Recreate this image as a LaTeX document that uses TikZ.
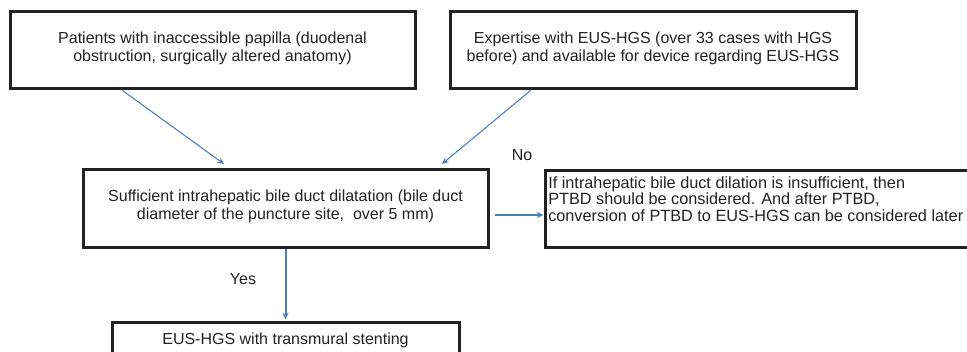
\documentclass[tikz,border=0pt]{standalone}
\usepackage{fontspec}
\setmainfont{Liberation Sans}
\usetikzlibrary{arrows.meta,calc}
\definecolor{arrowblue}{RGB}{74,126,187}
\definecolor{boxline}{RGB}{34,34,34}
\begin{document}
\begin{tikzpicture}[x=0.75pt,y=-0.75pt,
  box/.style={draw=boxline,line width=3*0.75pt,rectangle,inner sep=0pt,
    align=center,font=\fontsize{12}{13.5}\selectfont,text=boxline},
  lbl/.style={font=\fontsize{12}{13.5}\selectfont,text=boxline,inner sep=0pt},
  thinarrow/.style={draw=arrowblue,line width=0.8pt,-{Stealth[length=5pt,width=4.5pt]}},
  thickarrow/.style={draw=arrowblue,line width=1.5pt,-{Stealth[length=5pt,width=4.5pt]}}]
\useasboundingbox (0,0) rectangle (967,352);
\clip (0,0) rectangle (967,352);
\fill[white] (0,0) rectangle (967,352);
\node[box,minimum width=405*0.75pt,minimum height=77*0.75pt,text depth=6pt] (A) at (212.5,50.5)
  {Patients with inaccessible papilla (duodenal\\obstruction, surgically altered anatomy)};
\node[box,minimum width=406*0.75pt,minimum height=77*0.75pt,text depth=6pt] (B) at (653,50.5)
  {Expertise with EUS-HGS (over 33 cases with HGS\\before) and available for device regarding EUS-HGS};
\node[box,minimum width=405*0.75pt,minimum height=78*0.75pt,text depth=6pt] (C) at (285.5,209)
  {Sufficient intrahepatic bile duct dilatation (bile duct\\diameter of the puncture site,\ \ over 5 mm)};
\node[box,minimum width=445*0.75pt,minimum height=77*0.75pt] (D) at (767.5,209.5) {};
\node[lbl,anchor=north west,align=left,font=\fontsize{12.2}{12.7}\selectfont] (Dtext) at (548,176)
  {If intrahepatic bile duct dilation is insufficient, then\\PTBD should be considered. And after PTBD,\\conversion of PTBD to EUS-HGS can be considered later};
\node[box,minimum width=347*0.75pt,minimum height=34*0.75pt] (E) at (285.5,340)
  {EUS-HGS with transmural stenting};
\node[lbl] (no) at (522,155) {No};
\node[lbl] (yes) at (243,279) {Yes};
\coordinate (aend) at (224,164);
\coordinate (bend) at (442,164);
\coordinate (cright) at (495,215);
\draw[thinarrow] ($(A.south west)+(114,0)$) -- (aend);
\draw[thinarrow] ($(B.south west)+(82,0)$) -- (bend);
\draw[thickarrow] (cright) -- (cright -| D.west);
\draw[thickarrow,shorten >=2*0.75pt] (C.south) -- (E.north);
\end{tikzpicture}
\end{document}
